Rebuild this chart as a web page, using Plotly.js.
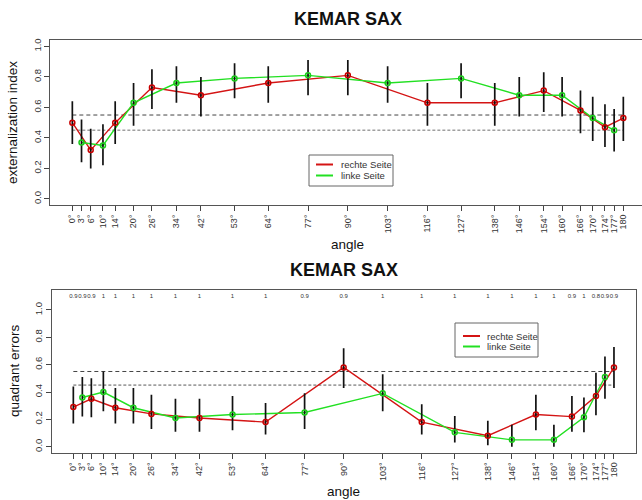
<!DOCTYPE html>
<html>
<head>
<meta charset="utf-8">
<script src="https://cdn.plot.ly/plotly-3.0.1.min.js"></script>
<style>html,body{margin:0;padding:0;background:#fff;}#chart{width:642px;height:500px;}</style>
</head>
<body>
<div id="chart"></div>
<script>
// ---------- data ----------
var angles = [0,3,6,10,14,20,26,34,42,53,64,77,90,103,116,127,138,146,154,160,166,170,174,177,180];
var angleLabels = ['0°','3°','6°','10°','14°','20°','26°','34°','42°','53°','64°','77°','90°','103°','116°','127°','138°','146°','154°','160°','166°','170°','174°','177°','180'];

var rightAngles = [0,6,14,26,42,64,90,116,138,154,166,174,180];
var leftAngles  = [3,10,20,34,53,77,103,127,146,160,170,177];

// externalization index (top)
var extRight   = [0.50,0.32,0.50,0.73,0.68,0.76,0.81,0.63,0.63,0.71,0.58,0.47,0.53];
var extRightHi = [0.64,0.46,0.64,0.85,0.80,0.87,0.91,0.76,0.76,0.83,0.71,0.62,0.67];
var extRightLo = [0.36,0.20,0.36,0.59,0.54,0.63,0.68,0.48,0.48,0.57,0.43,0.34,0.38];
var extLeft    = [0.37,0.35,0.63,0.76,0.79,0.81,0.76,0.79,0.68,0.68,0.53,0.45];
var extLeftHi  = [0.52,0.49,0.76,0.87,0.89,0.91,0.87,0.89,0.80,0.80,0.67,0.59];
var extLeftLo  = [0.24,0.22,0.48,0.63,0.66,0.68,0.63,0.66,0.54,0.54,0.38,0.31];

// quadrant errors (bottom)
var qRight   = [0.29,0.35,0.285,0.24,0.21,0.18,0.58,0.18,0.08,0.235,0.22,0.37,0.58];
var qRightHi = [0.44,0.50,0.43,0.38,0.35,0.32,0.72,0.31,0.19,0.38,0.37,0.54,0.73];
var qRightLo = [0.17,0.215,0.17,0.13,0.11,0.09,0.43,0.09,0.01,0.12,0.11,0.23,0.43];
var qLeft    = [0.36,0.40,0.285,0.21,0.235,0.25,0.39,0.105,0.05,0.05,0.215,0.51];
var qLeftHi  = [0.51,0.55,0.43,0.35,0.37,0.39,0.53,0.225,0.16,0.16,0.36,0.66];
var qLeftLo  = [0.22,0.26,0.17,0.11,0.12,0.13,0.26,0.03,0.00,0.00,0.105,0.35];

var propLabels = ['0.9','0.9','0.9','1','1','1','1','1','1','1','1','0.9','0.9','1','1','1','1','1','1','1','0.9','1','0.8','0.9','0.9'];
var propLevel = 1.1;

var refLevels = [0.55, 0.45];
var seriesNames = ['rechte Seite', 'linke Seite'];
var yTickVals = [0, 0.2, 0.4, 0.6, 0.8, 1.0];
var yTickText = ['0.0','0.2','0.4','0.6','0.8','1.0'];

// ---------- style ----------
var RED = '#d41414', GREEN = '#22e022', RED_M = '#c80000', GREEN_M = '#1ccc1c';
var FONT = 'Liberation Sans, Arial, Helvetica, sans-serif';
function px(x){ return x/642; }
function py(y){ return 1 - y/500; }
function diff(a,b){ return a.map(function(v,i){ return v-b[i]; }); }

var traces = [];
function panel(xa, ya, rA, rV, rHi, rLo, lA, lV, lHi, lLo){
  var x0 = angles[0], x1 = angles[angles.length-1];
  traces.push({x:[x0,x1], y:[refLevels[0],refLevels[0]], xaxis:xa, yaxis:ya, mode:'lines',
    line:{color:'#444', width:1, dash:'4px,3px'}, hoverinfo:'skip', showlegend:false});
  traces.push({x:[x0,x1], y:[refLevels[1],refLevels[1]], xaxis:xa, yaxis:ya, mode:'lines',
    line:{color:'#a0a0a0', width:1.6, dash:'3px,2px'}, hoverinfo:'skip', showlegend:false});
  traces.push({x:rA, y:rV, xaxis:xa, yaxis:ya, mode:'lines', line:{color:RED, width:1.4}, showlegend:false, name:seriesNames[0]});
  traces.push({x:lA, y:lV, xaxis:xa, yaxis:ya, mode:'lines', line:{color:GREEN, width:1.4}, showlegend:false, name:seriesNames[1]});
  traces.push({x:rA, y:rV, xaxis:xa, yaxis:ya, mode:'markers', marker:{size:1, opacity:0},
    error_y:{type:'data', symmetric:false, array:diff(rHi,rV), arrayminus:diff(rV,rLo), color:'#111', thickness:1.7, width:0},
    showlegend:false, hoverinfo:'skip'});
  traces.push({x:lA, y:lV, xaxis:xa, yaxis:ya, mode:'markers', marker:{size:1, opacity:0},
    error_y:{type:'data', symmetric:false, array:diff(lHi,lV), arrayminus:diff(lV,lLo), color:'#111', thickness:1.7, width:0},
    showlegend:false, hoverinfo:'skip'});
  traces.push({x:rA, y:rV, xaxis:xa, yaxis:ya, mode:'markers', marker:{size:5, symbol:'circle-open', color:RED_M, line:{width:1.5}}, showlegend:false});
  traces.push({x:lA, y:lV, xaxis:xa, yaxis:ya, mode:'markers', marker:{size:5, symbol:'circle-open', color:GREEN_M, line:{width:1.5}}, showlegend:false});
}
panel('x','y', rightAngles, extRight, extRightHi, extRightLo, leftAngles, extLeft, extLeftHi, extLeftLo);
panel('x2','y2', rightAngles, qRight, qRightHi, qRightLo, leftAngles, qLeft, qLeftHi, qLeftLo);

traces.push({x:angles, y:angles.map(function(){return propLevel;}), text:propLabels, mode:'text',
  xaxis:'x2', yaxis:'y2', textposition:'middle center', textfont:{size:6, color:'#333', family:FONT},
  showlegend:false, hoverinfo:'skip'});

var xCommon = {tickvals:angles, ticktext:angleLabels, tickangle:-90, ticks:'outside', ticklen:5, tickcolor:'#444',
  tickfont:{size:9, color:'#333', family:FONT}, showgrid:false, zeroline:false, showline:true, mirror:true,
  linecolor:'#555', linewidth:1, fixedrange:true};
var yCommon = {tickvals:yTickVals, ticktext:yTickText, tickangle:-90, ticks:'outside', ticklen:5, tickcolor:'#444',
  tickfont:{size:9.5, color:'#333', family:FONT}, showgrid:false, zeroline:false, showline:true,
  linecolor:'#555', linewidth:1, fixedrange:true};

function merge(a,b){ var o={}; for (var k in a) o[k]=a[k]; for (var k2 in b) o[k2]=b[k2]; return o; }

var shapes = [];
var annotations = [];
function ann(text, x, y, size, opts){
  var a = {text:text, x:px(x), y:py(y), xref:'paper', yref:'paper', showarrow:false,
    xanchor:'center', yanchor:'middle', font:{size:size, color:'#111', family:FONT}};
  return merge(a, opts||{});
}
function legend(bx0, by0, bx1, by1, lx0, lx1, tx, rows){
  shapes.push({type:'rect', xref:'paper', yref:'paper', x0:px(bx0), x1:px(bx1), y0:py(by0), y1:py(by1),
    line:{color:'#666', width:1}, fillcolor:'rgba(255,255,255,0)'});
  var cols = [RED, GREEN];
  for (var i=0;i<2;i++){
    shapes.push({type:'line', xref:'paper', yref:'paper', x0:px(lx0), x1:px(lx1), y0:py(rows[i]), y1:py(rows[i]),
      line:{color:cols[i], width:2}});
    annotations.push(ann(seriesNames[i], tx, rows[i], 9, {xanchor:'left', font:{size:9.5, color:'#333', family:FONT}}));
  }
}
legend(309,155,393,186, 316,333, 339, [164.5,175.5]);
legend(455,323,538,357, 463,480, 485, [336,346.5]);

annotations.push(ann('<b>KEMAR SAX</b>', 348, 19, 18));
annotations.push(ann('<b>KEMAR SAX</b>', 344, 270, 18));
annotations.push(ann('externalization index', 12, 123, 13.5, {textangle:-90}));
annotations.push(ann('quadrant errors', 14, 371, 13.5, {textangle:-90}));
annotations.push(ann('angle', 348, 244, 13.5));
annotations.push(ann('angle', 344, 491, 13.5));

var layout = {
  width:642, height:500, margin:{l:0,r:0,t:0,b:0}, paper_bgcolor:'#fff', plot_bgcolor:'#fff',
  showlegend:false, font:{family:FONT},
  xaxis: merge(xCommon, {domain:[px(50.3), 1], range:[-7.2, 186.1], anchor:'y'}),
  yaxis: merge(yCommon, {domain:[py(205), py(40.3)], range:[-0.04, 1.04], anchor:'x'}),
  xaxis2: merge(xCommon, {domain:[px(51.7), px(635.6)], range:[-7.2, 187.2], anchor:'y2'}),
  yaxis2: merge(yCommon, {domain:[py(452.7), py(290.3)], range:[-0.044, 1.144], anchor:'x2', mirror:true}),
  shapes:shapes, annotations:annotations
};
Plotly.newPlot('chart', traces, layout, {displayModeBar:false, staticPlot:true});
</script>
</body>
</html>
